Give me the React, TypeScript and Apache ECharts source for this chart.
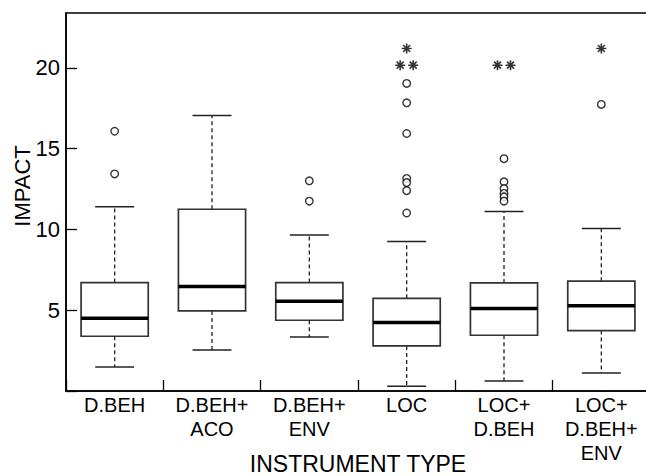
import React, { useEffect, useRef } from "react";
import * as echarts from "echarts";

const categories = ["D.BEH", "D.BEH+\nACO", "D.BEH+\nENV", "LOC", "LOC+\nD.BEH", "LOC+\nD.BEH+\nENV"];
const whiskerLow = [1.49, 2.54, 3.35, 0.29, 0.62, 1.12];
const q1 = [3.39, 4.96, 4.38, 2.79, 3.45, 3.74];
const median = [4.5, 6.47, 5.56, 4.24, 5.1, 5.27];
const q3 = [6.71, 11.25, 6.71, 5.74, 6.69, 6.8];
const whiskerHigh = [11.4, 17.05, 9.66, 9.25, 11.11, 10.06];
const outliers = [
  [16.08, 13.44],
  [],
  [13.01, 11.75],
  [19.04, 17.84, 15.94, 13.16, 12.9, 12.4, 11.02],
  [14.38, 12.95, 12.53, 12.23, 12.02, 11.75],
  [17.74],
];
const extremes = [[], [], [], [21.2, 20.17, 20.17], [20.17, 20.17], [21.2]];
const yTicks = [5, 10, 15, 20];

const FONT = "Liberation Sans, Arial, sans-serif";

const asteriskPath =
  "path://M0,5L10,5M5,0L5,10M1.5,1.5L8.5,8.5M8.5,1.5L1.5,8.5";

function spreadPoints(lists: number[][]) {
  const items: any[] = [];
  lists.forEach((vals, i) => {
    const counts: Record<string, number> = {};
    vals.forEach((v) => {
      counts[String(v)] = (counts[String(v)] || 0) + 1;
    });
    const seen: Record<string, number> = {};
    vals.forEach((v) => {
      const k = String(v);
      const n = counts[k];
      const j = seen[k] || 0;
      seen[k] = j + 1;
      const off = n > 1 ? (j - (n - 1) / 2) * 13 : 0;
      items.push({ value: [i, v], symbolOffset: [off, 0] });
    });
  });
  return items;
}

export default function App() {
  const ref = useRef<HTMLDivElement>(null);
  useEffect(() => {
    if (!ref.current) return;
    const chart = echarts.init(ref.current, null, { renderer: "svg" });
    const boxData = categories.map((_, i) => [i, whiskerLow[i], q1[i], median[i], q3[i], whiskerHigh[i]]);
    const outlierData = outliers.flatMap((vals, i) => vals.map((v) => [i, v]));
    chart.setOption({
      animation: false,
      backgroundColor: "#fff",
      textStyle: { fontFamily: FONT },
      grid: {
        left: 66,
        top: 13,
        width: 584,
        height: 378,
        containLabel: false,
        outerBoundsMode: "none",
        show: true,
        borderColor: "#000",
        borderWidth: 1.5,
        backgroundColor: "transparent",
      },
      graphic: [
        {
          type: "text",
          x: 22,
          y: 186,
          rotation: Math.PI / 2,
          style: {
            text: "IMPACT",
            fontSize: 22,
            fontFamily: FONT,
            fill: "#000",
            align: "center",
            verticalAlign: "middle",
          },
        },
      ],
      xAxis: {
        type: "category",
        data: categories,
        boundaryGap: true,
        name: "INSTRUMENT TYPE",
        nameLocation: "middle",
        nameGap: 61,
        nameMoveOverlap: false,
        nameTextStyle: { fontSize: 23, color: "#000", fontFamily: FONT },
        axisLine: { show: true, lineStyle: { color: "#000", width: 1.5 } },
        axisTick: { show: true, inside: true, length: 11, alignWithLabel: false, lineStyle: { color: "#000", width: 1.3 } },
        axisLabel: { interval: 0, fontSize: 20, lineHeight: 24, color: "#000", margin: 2, fontFamily: FONT },
        splitLine: { show: false },
      },
      yAxis: {
        type: "value",
        min: 0,
        max: 23.4,
        interval: 5,
        axisLine: { show: true, lineStyle: { color: "#000", width: 1.5 } },
        axisTick: { show: true, inside: true, length: 11, lineStyle: { color: "#000", width: 1.3 } },
        axisLabel: {
          fontSize: 22,
          color: "#000",
          margin: 6,
          fontFamily: FONT,
          showMaxLabel: false,
          formatter: (v: number) => (yTicks.includes(v) ? String(v) : ""),
        },
        splitLine: { show: false },
      },
      series: [
        {
          type: "custom",
          data: boxData,
          encode: { x: 0, y: [1, 2, 3, 4, 5] },
          renderItem: (params: any, api: any) => {
            const idx = api.value(0);
            const lo = api.coord([idx, api.value(1)]);
            const b1 = api.coord([idx, api.value(2)]);
            const md = api.coord([idx, api.value(3)]);
            const b3 = api.coord([idx, api.value(4)]);
            const hi = api.coord([idx, api.value(5)]);
            const bw = api.size([1, 0])[0];
            const boxW = bw * 0.69;
            const capW = bw * 0.4;
            const x = lo[0];
            const dash = { stroke: "#222", lineWidth: 1.3, lineDash: [4, 3] };
            const cap = { stroke: "#222", lineWidth: 1.5 };
            return {
              type: "group",
              children: [
                { type: "line", shape: { x1: x, y1: b3[1], x2: x, y2: hi[1] }, style: dash },
                { type: "line", shape: { x1: x, y1: b1[1], x2: x, y2: lo[1] }, style: dash },
                { type: "line", shape: { x1: x - capW / 2, y1: hi[1], x2: x + capW / 2, y2: hi[1] }, style: cap },
                { type: "line", shape: { x1: x - capW / 2, y1: lo[1], x2: x + capW / 2, y2: lo[1] }, style: cap },
                {
                  type: "rect",
                  shape: { x: x - boxW / 2, y: b3[1], width: boxW, height: b1[1] - b3[1] },
                  style: { fill: "#fff", stroke: "#333", lineWidth: 1.7 },
                },
                {
                  type: "line",
                  shape: { x1: x - boxW / 2, y1: md[1], x2: x + boxW / 2, y2: md[1] },
                  style: { stroke: "#000", lineWidth: 3.5 },
                },
              ],
            };
          },
          z: 2,
        },
        {
          type: "scatter",
          data: outlierData,
          symbol: "circle",
          symbolSize: 7.5,
          itemStyle: { color: "#fff", borderColor: "#000", borderWidth: 1.4 },
          z: 3,
        },
        {
          type: "scatter",
          data: spreadPoints(extremes),
          symbol: asteriskPath,
          symbolSize: 10,
          itemStyle: { color: "none", borderColor: "#000", borderWidth: 1.6 },
          z: 3,
        },
      ],
    });
    return () => chart.dispose();
  }, []);
  return <div ref={ref} style={{ position: "fixed", left: 0, top: 0, width: 646, height: 476 }} />;
}
